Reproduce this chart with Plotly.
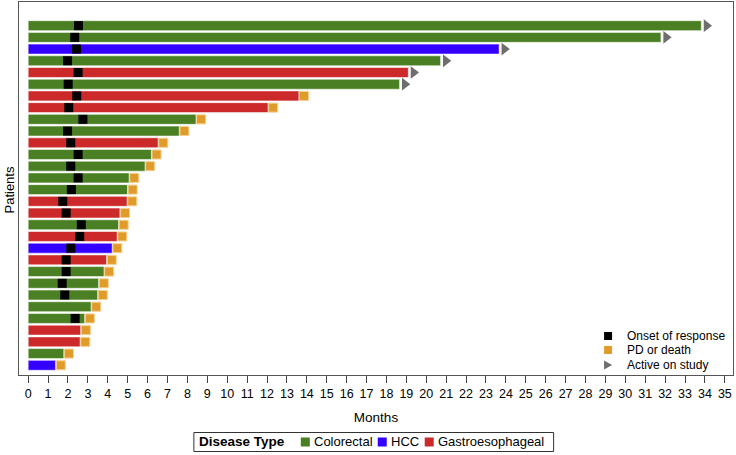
import plotly.graph_objects as go

patients = list(range(1, 31))
disease = ["Colorectal", "Colorectal", "HCC", "Colorectal", "Gastroesophageal", "Colorectal",
           "Gastroesophageal", "Gastroesophageal", "Colorectal", "Colorectal", "Gastroesophageal",
           "Colorectal", "Colorectal", "Colorectal", "Colorectal", "Gastroesophageal",
           "Gastroesophageal", "Colorectal", "Gastroesophageal", "HCC", "Gastroesophageal",
           "Colorectal", "Colorectal", "Colorectal", "Colorectal", "Colorectal",
           "Gastroesophageal", "Gastroesophageal", "Colorectal", "HCC"]
months = [33.82, 31.79, 23.66, 20.72, 19.1, 18.66, 13.6, 12.05, 8.43, 7.59, 6.53, 6.19, 5.87, 5.07,
          4.99, 4.97, 4.61, 4.54, 4.47, 4.22, 3.94, 3.81, 3.54, 3.49, 3.16, 2.84, 2.64, 2.61,
          1.79, 1.38]
onset = [2.53, 2.34, 2.43, 1.98, 2.51, 2.01, 2.44, 2.04, 2.75, 1.98, 2.14, 2.51, 2.14, 2.51,
         2.17, 1.74, 1.91, 2.67, 2.59, 2.14, 1.91, 1.91, 1.71, 1.84, None, 2.36, None, None,
         None, None]
active = [True] * 6 + [False] * 24
disease_types = ["Colorectal", "HCC", "Gastroesophageal"]
event_labels = ["Onset of response", "PD or death", "Active on study"]
x_ticks = list(range(0, 36))

colors = {"Colorectal": "#4A7F23", "HCC": "#3300FF", "Gastroesophageal": "#CC2A2A"}
BLACK, ORANGE, GRAY = "black", "#E09B2B", "#6E6E6E"
FONT = "Liberation Sans, Arial, sans-serif"
OFF = 0.26  # marker offset after bar end (months)

W, H = 736, 455
ML, MR, MT, MB = 18.5, 3, 2, 80
PW, PH = W - ML - MR, H - MT - MB


def px(xp):
    return (xp - ML) / PW


def py(yp):
    return (H - MB - yp) / PH


fig = go.Figure()
for dt in disease_types:
    idx = [i for i, d in enumerate(disease) if d == dt]
    fig.add_trace(go.Bar(
        x=[months[i] for i in idx], y=[patients[i] for i in idx], base=0,
        width=[0.85] * len(idx), orientation="h", name=dt,
        marker=dict(color=colors[dt], line=dict(color="rgba(255,255,255,0.55)", width=1)),
    ))

on_idx = [i for i, v in enumerate(onset) if v is not None]
fig.add_trace(go.Scatter(
    x=[onset[i] for i in on_idx], y=[patients[i] for i in on_idx], mode="markers",
    name=event_labels[0],
    marker=dict(symbol="square", size=9, color=BLACK, line=dict(width=0)),
))
pd_idx = [i for i, a in enumerate(active) if not a]
fig.add_trace(go.Scatter(
    x=[months[i] + OFF for i in pd_idx], y=[patients[i] for i in pd_idx], mode="markers",
    name=event_labels[1],
    marker=dict(symbol="square", size=9, color=ORANGE, line=dict(color="#F3D08F", width=1)),
))
ac_idx = [i for i, a in enumerate(active) if a]
fig.add_trace(go.Scatter(
    x=[months[i] + OFF for i in ac_idx], y=[patients[i] for i in ac_idx], mode="markers",
    name=event_labels[2],
    marker=dict(symbol="triangle-right", size=11, color=GRAY, line=dict(width=0)),
))

shapes = []
annotations = []

# inner legend (events)
ev_y = [336, 350, 365]
mx, s = 608, 4
for k, lab in enumerate(event_labels):
    yc = ev_y[k]
    if k < 2:
        shapes.append(dict(type="rect", xref="paper", yref="paper",
                           x0=px(mx - s), x1=px(mx + s), y0=py(yc + s), y1=py(yc - s),
                           fillcolor=BLACK if k == 0 else ORANGE, line=dict(width=0)))
    else:
        path = "M {} {} L {} {} L {} {} Z".format(px(mx - 4), py(yc - 4.5), px(mx + 4), py(yc),
                                                  px(mx - 4), py(yc + 4.5))
        shapes.append(dict(type="path", xref="paper", yref="paper", path=path,
                           fillcolor=GRAY, line=dict(width=0)))
    annotations.append(dict(text=lab, xref="paper", yref="paper", x=px(625), y=py(yc),
                            xanchor="left", yanchor="middle", showarrow=False,
                            font=dict(size=12, color="black")))

# bottom legend (disease type)
ly = 442
shapes.append(dict(type="rect", xref="paper", yref="paper", x0=px(193.5), x1=px(553.5),
                   y0=py(451.5), y1=py(432.5), line=dict(color="#333", width=1),
                   fillcolor="rgba(0,0,0,0)"))
annotations.append(dict(text="<b>Disease Type</b>", xref="paper", yref="paper", x=px(197),
                        y=py(ly), xanchor="left", yanchor="middle", showarrow=False,
                        font=dict(size=13.5, color="black")))
sq_x = [305, 382, 429]
tx_x = [312, 389, 436]
for k, dt in enumerate(disease_types):
    shapes.append(dict(type="rect", xref="paper", yref="paper",
                       x0=px(sq_x[k] - 4.5), x1=px(sq_x[k] + 4.5), y0=py(ly + 4.5), y1=py(ly - 4.5),
                       fillcolor=colors[dt], line=dict(width=0)))
    annotations.append(dict(text=dt, xref="paper", yref="paper", x=px(tx_x[k]), y=py(ly),
                            xanchor="left", yanchor="middle", showarrow=False,
                            font=dict(size=13, color="black")))

# y-axis title
annotations.append(dict(text="Patients", xref="paper", yref="paper", x=px(8), y=py(190),
                        xanchor="center", yanchor="middle", textangle=-90, showarrow=False,
                        font=dict(size=13, color="black")))

fig.update_layout(
    width=W, height=H,
    margin=dict(l=ML, r=MR, t=MT, b=MB),
    plot_bgcolor="white", paper_bgcolor="white",
    font=dict(family=FONT, size=12, color="black"),
    barmode="overlay", bargap=0.15,
    showlegend=False, hovermode=False,
    shapes=shapes, annotations=annotations,
    xaxis=dict(
        range=[-0.46, 35.41], tickvals=x_ticks, ticktext=[str(t) for t in x_ticks],
        ticks="outside", ticklen=7, tickcolor="#444", showgrid=False, zeroline=False,
        showline=True, mirror=True, linecolor="#555", linewidth=1,
        title=dict(text="Months", font=dict(size=13.5), standoff=12),
        tickfont=dict(size=12.5), automargin=False,
    ),
    yaxis=dict(
        range=[30.83, -1.02], showticklabels=False, ticks="", showgrid=False,
        zeroline=False, showline=True, mirror=True, linecolor="#555", linewidth=1,
        automargin=False,
    ),
)

fig.write_html("out.html", config={"displayModeBar": False},
               post_script="document.body.style.margin='0px';document.body.style.padding='0px';")
